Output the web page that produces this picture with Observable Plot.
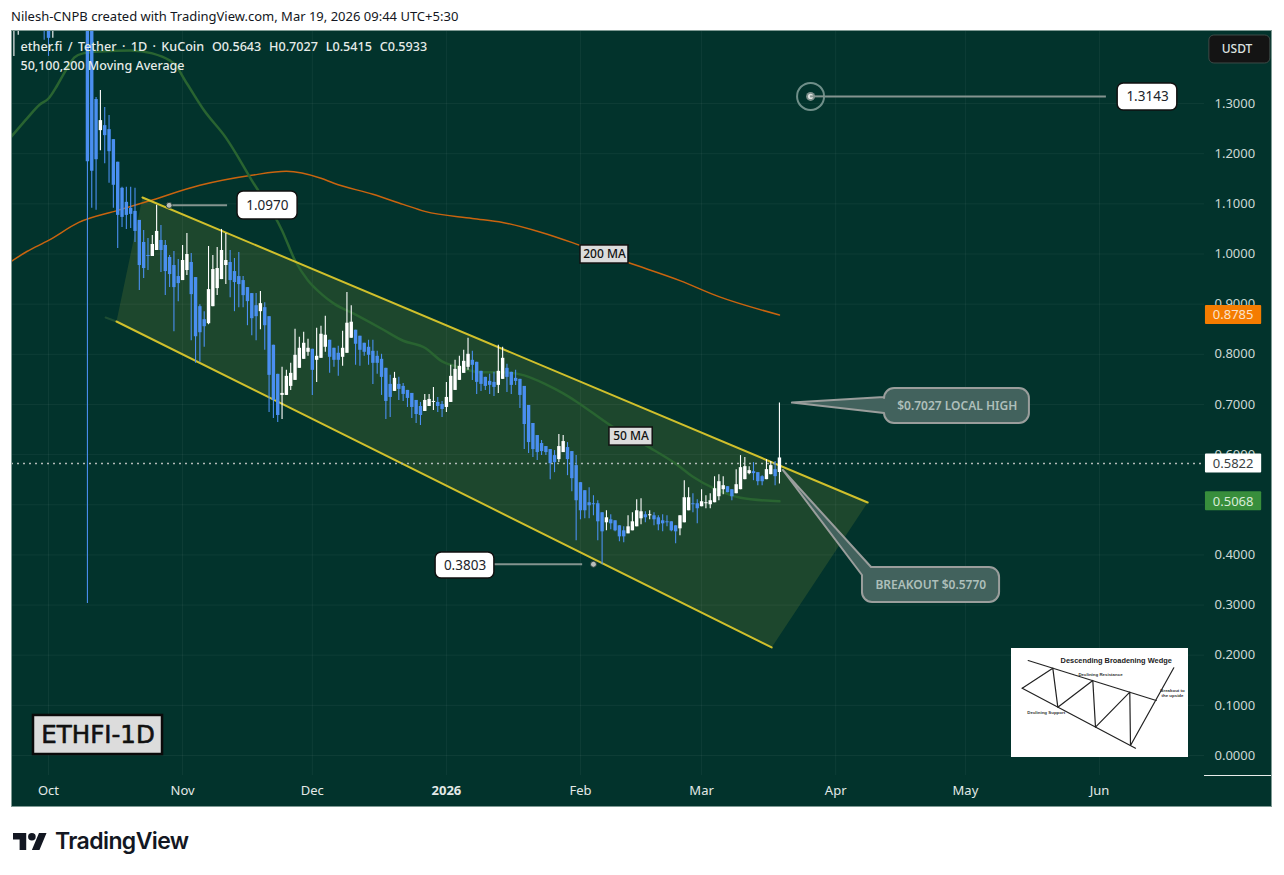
<!DOCTYPE html>
<html>
<head>
<meta charset="utf-8">
<script src="https://cdn.jsdelivr.net/npm/d3@7"></script>
<script src="https://cdn.jsdelivr.net/npm/@observablehq/plot@0.6"></script>
<style>
html,body{margin:0;padding:0;background:#fff;overflow:hidden;width:1284px;height:875px;position:relative}
#top{position:absolute;left:11px;top:8px;font:13px/16px "Noto Sans",sans-serif;color:#131722;white-space:nowrap}
#logo{position:absolute;left:13px;top:832px;display:flex;align-items:center;gap:8px;color:#131722}
#logo span{font:600 23px/18px Inter,sans-serif;letter-spacing:-.6px}
</style>
</head>
<body>
<div id="top">Nilesh-CNPB created with TradingView.com, Mar 19, 2026 09:44 UTC+5:30</div>
<div id="chart"></div>
<div id="logo"><svg width="34" height="17" viewBox="0 4 36 18"><path fill="#131722" d="M14 22H7V11H0V4h14v18zM28 22h-8l7.5-18h8L28 22z"/><circle fill="#131722" cx="20" cy="8" r="4"/></svg><span>TradingView</span></div>
<script>
// ---------- candles: one per day from Oct 10 2025 to Mar 19 2026 ----------
const firstDay = "2025-10-10", lastDay = "2026-03-20";
const opens = [
1.90,1.60,1.308,1.246,1.256,1.248,1.228,1.183,1.131,1.103,1.091,1.085,1.067,1.023,0.997,0.995,1.007,1.027,1.017,0.993,0.977,0.955,
.947,.967,.983,.953,.895,.869,.861,.895,.931,.949,.977,.983,.965,.955,.947,.933,.921,.897,.885,.893,.875,.818,.760,.718,.718,.736,.748,.772,.790,.804,
.810,.788,.792,.814,.828,.812,.802,.794,.802,.832,.848,.836,.822,.814,.806,.796,.790,.772,.740,.726,.740,.736,.728,.722,.708,.696,.686,.696,.704,.704,.700,
.694,.704,.728,.748,.762,.774,.788,.784,.766,.754,.746,.744,.738,.750,.772,.764,.752,.750,.736,.698,.662,.638,.622,.616,.610,.598,.590,.604,.614,.606,.578,
.544,.528,.504,.502,.502,.484,.464,.470,.468,.458,.448,.442,.448,.456,.472,.480,.478,.478,.474,.468,.466,.466,.458,.452,.464,.488,.502,.502,
.496,.502,.500,.504,.516,.530,.536,.530,.522,.530,.550,.562,.566,.564,.556,.550,.560,.570,.5643];
const highs = [
2.10,1.65,1.312,1.326,1.292,1.276,1.228,1.183,1.133,1.133,1.133,1.131,1.067,1.047,1.031,1.037,1.097,1.057,1.027,.997,1.005,.989,
1.017,1.041,1.001,.953,.899,.885,1.015,.997,1.013,1.049,1.041,1.007,.991,1.003,.955,.933,.921,.921,.925,.903,.875,.818,.760,.774,.768,.782,.850,.834,.844,.830,
.810,.852,.856,.876,.828,.812,.816,.846,.923,.897,.848,.836,.822,.828,.828,.806,.800,.772,.758,.764,.754,.742,.728,.722,.708,.704,.720,.720,.734,.714,.706,
.744,.778,.788,.796,.808,.832,.806,.784,.766,.754,.760,.764,.818,.814,.780,.764,.768,.750,.736,.698,.662,.638,.628,.616,.610,.608,.640,.638,.624,.606,.598,
.544,.528,.534,.518,.508,.484,.488,.480,.468,.458,.456,.478,.484,.510,.512,.486,.488,.484,.478,.480,.478,.466,.458,.478,.548,.534,.522,.510,
.530,.518,.522,.556,.560,.556,.536,.530,.570,.598,.594,.576,.584,.564,.558,.590,.586,.586,.7027];
const lows = [
.303,1.091,1.087,1.206,1.180,1.141,1.091,1.011,1.053,1.049,1.051,1.023,.927,.951,.967,.995,1.007,.963,.917,.933,.845,.905,
.947,.957,.827,.782,.784,.814,.859,.895,.917,.949,.939,.913,.885,.893,.893,.857,.837,.827,.849,.808,.684,.672,.664,.670,.718,.728,.748,.772,.790,.796,
.718,.744,.792,.804,.762,.774,.756,.776,.802,.832,.778,.776,.796,.778,.740,.760,.718,.670,.674,.726,.708,.706,.694,.672,.662,.658,.686,.696,.688,.684,.674,
.684,.704,.728,.748,.762,.768,.748,.720,.726,.728,.720,.716,.722,.750,.724,.720,.738,.692,.610,.602,.594,.588,.598,.598,.550,.564,.584,.604,.558,.526,.428,
.470,.472,.472,.478,.428,.3803,.448,.450,.446,.426,.424,.442,.448,.456,.460,.464,.470,.458,.448,.446,.456,.446,.422,.438,.464,.488,.484,.462,
.496,.492,.492,.504,.508,.520,.524,.508,.522,.530,.550,.560,.548,.538,.538,.550,.560,.538,.5415];
const closes = [
1.184,1.165,1.188,1.266,1.236,1.204,1.137,1.077,1.073,1.077,1.079,1.045,.977,.971,.995,1.019,1.045,1.007,.965,.959,.933,.941,
.987,.999,.919,.835,.843,.855,.929,.969,.971,1.007,.987,.947,.943,.939,.917,.905,.871,.875,.901,.857,.758,.708,.678,.722,.756,.762,.798,.812,.822,.812,
.768,.796,.840,.838,.794,.788,.788,.812,.862,.864,.820,.808,.804,.798,.782,.782,.754,.706,.714,.752,.730,.720,.712,.694,.680,.678,.708,.710,.706,.696,.690,
.714,.756,.770,.776,.786,.800,.778,.744,.740,.736,.738,.734,.766,.792,.754,.738,.746,.718,.660,.624,.610,.604,.606,.604,.582,.584,.616,.626,.590,.552,.508,
.488,.488,.498,.500,.466,.446,.474,.462,.448,.436,.436,.456,.466,.488,.486,.474,.480,.470,.460,.462,.464,.448,.446,.478,.514,.514,.500,.492,
.506,.504,.508,.532,.546,.538,.524,.516,.540,.574,.576,.568,.562,.546,.546,.570,.578,.556,.5933];

// candles of September/October that only reach into the top of the pane
const earlyDates  = ["2025-09-23","2025-09-24","2025-09-30","2025-10-01","2025-10-02"];
const earlyOpens  = [1.47,1.50,1.56,1.55,1.46];
const earlyHighs  = [1.56,1.60,1.60,1.60,1.60];
const earlyLows   = [1.394,1.436,1.426,1.394,1.43];
const earlyCloses = [1.52,1.56,1.49,1.43,1.55];

// ---------- moving averages ----------
const ma50Dates = ["2025-09-22","2025-09-23","2025-09-26","2025-09-29","2025-10-01","2025-10-03","2025-10-05","2025-10-07","2025-10-09","2025-10-13","2025-10-20","2025-10-25","2025-10-29","2025-10-30","2025-11-02","2025-11-06","2025-11-11","2025-11-17","2025-11-24","2025-11-27","2025-11-30","2025-12-03","2025-12-06","2025-12-11","2025-12-17","2025-12-22","2025-12-27","2025-12-31","2026-01-04","2026-01-09","2026-01-14","2026-01-19","2026-01-24","2026-01-28","2026-01-31","2026-02-08","2026-02-17","2026-02-23","2026-02-27","2026-03-04","2026-03-10","2026-03-19"];
const ma50Values = [1.230,1.240,1.270,1.298,1.310,1.336,1.366,1.392,1.400,1.404,1.406,1.400,1.386,1.380,1.340,1.286,1.232,1.147,1.047,.987,.947,.921,.901,.879,.851,.827,.813,.786,.774,.764,.764,.758,.740,.722,.706,.658,.614,.582,.556,.532,.514,.5068];
const ma200Dates = ["2025-09-22","2025-09-26","2025-10-01","2025-10-08","2025-10-17","2025-10-24","2025-11-05","2025-11-17","2025-11-25","2025-12-03","2025-12-06","2025-12-15","2025-12-22","2025-12-27","2026-01-07","2026-01-14","2026-01-23","2026-02-01","2026-02-12","2026-02-24","2026-03-05","2026-03-19"];
const ma200Values = [.9831,1.005,1.027,1.063,1.087,1.105,1.137,1.157,1.165,1.151,1.141,1.119,1.099,1.085,1.071,1.063,1.043,1.017,.983,.947,.915,.8785];

// ---------- axes ----------
const priceTicks = d3.range(0,14).map(i => i/10);
const hiddenPriceTick = 0.5; // fully covered by the green MA badge in the reference
const monthDates = ["2025-10-01","2025-11-01","2025-12-01","2026-01-01","2026-02-01","2026-03-01","2026-04-01","2026-05-01","2026-06-01"];
const monthLabels = ["Oct","Nov","Dec","2026","Feb","Mar","Apr","May","Jun"];

// ---------- drawn objects, x in days after Oct 1 2025, y in price ----------
const day = d => new Date(Date.UTC(2025,9,1) + d*864e5);
const d = s => new Date(s+"T00:00:00Z");
const channelDays = [21.73,189.4,167.2,15.72];
const channelPrices = [1.1127,0.5045,0.2154,0.8654];
const stubDays = [13.2,15.7], stubPrices = [.8734,.8654];

const whiteLabels = ["1.0970","0.3803","1.3143"];
const whiteDay0 = [43.7,89.5,247.2], whiteDay1 = [57.6,103.1,261.0];
const whiteHi = [1.1246,.4048,1.34], whiteLo = [1.0688,.3529,1.2861];
const whitePrice = [1.097,.3795,1.3135], whiteMid = [50.6,96.3,254.1];
const connDay0 = [27.7,103.1,179.4], connDay1 = [41.4,123.5,244.6], connPrice = [1.097,.3813,1.3143];
const dotDays = [27.9,126.0], dotPrices = [1.097,.3813];

const greyLabels = ["200 MA","50 MA"];
const greyDay0 = [123.0,129.7], greyDay1 = [134.1,139.7];
const greyHi = [1.017,.654], greyLo = [.981,.618];

const axisBadgeText = ["0.8785","0.5822","0.5068"];
const axisBadgePrice = [.8785,.5822,.5068];
const axisBadgeFill = ["#f57c00","#ffffff","#388e3c"];
const axisBadgeInk = ["#fbe3cc","#3a3f44","#d8ecd8"];

const rows = (dates,o,h,l,c) => dates.map((date,i)=>({date,o:o[i],h:h[i],l:l[i],c:c[i]}));
const candles = [
  ...rows(earlyDates.map(d),earlyOpens,earlyHighs,earlyLows,earlyCloses),
  ...rows(d3.utcDay.range(d(firstDay),d(lastDay)),opens,highs,lows,closes)
];
const zip = (ds,vs) => ds.map((s,i)=>({date:d(s),v:vs[i]}));
const up = r => r.c >= r.o ? "#ffffff" : "#4a8ff0";

// rounded callout with a pointed tail, built through the chart's scales
function callout(tip,b0,b1,box){
  return (index,{x,y}) => {
    const X0=x(day(box.d0)),X1=x(day(box.d1)),Y0=y(box.hi),Y1=y(box.lo),r=10;
    const p=d3.path();
    const side = box.side;
    p.moveTo(X0+r,Y0);
    p.lineTo(X1-r,Y0); p.arcTo(X1,Y0,X1,Y0+r,r);
    p.lineTo(X1,Y1-r); p.arcTo(X1,Y1,X1-r,Y1,r);
    p.lineTo(X0+r,Y1); p.arcTo(X0,Y1,X0,Y1-r,r);
    if(side==="left"){
      p.lineTo(X0,y(b1[1]));
      p.lineTo(x(day(tip[0])),y(tip[1]));
      p.lineTo(X0,y(b0[1]));
      p.lineTo(X0,Y0+r); p.arcTo(X0,Y0,X0+r,Y0,r);
    } else {
      p.lineTo(X0,y(b1[1]));
      p.lineTo(x(day(tip[0])),y(tip[1]));
      p.lineTo(x(day(b0[0])),Y0);
      p.lineTo(X0+r,Y0);
    }
    p.closePath();
    const el=document.createElementNS("http://www.w3.org/2000/svg","path");
    el.setAttribute("d",p.toString());
    el.setAttribute("fill","#42625d");
    el.setAttribute("stroke","#9a9e9c");
    el.setAttribute("stroke-width","2");
    el.setAttribute("stroke-linejoin","round");
    return el;
  };
}

const textFont = '"Noto Sans",sans-serif';
const chart = Plot.plot({
  width:1261, height:777,
  marginLeft:0, marginRight:68, marginTop:0, marginBottom:32,
  x:{type:"utc",domain:[day(-8.555),day(267.28)],axis:null},
  y:{type:"linear",domain:[-0.03988,1.44566],axis:null},
  style:{position:"absolute",left:"11px",top:"30px",background:"#02332c",outline:"1px solid #7f9a94",outlineOffset:"-1px",fontFamily:textFont,fontSize:"13px"},
  marks:[
    // channel shading
    Plot.line(channelDays.map((v,i)=>({x:day(v),y:channelPrices[i]})),{x:"x",y:"y",fill:"#4a6a30",fillOpacity:.38,stroke:"none",curve:"linear-closed"}),
    // grid
    Plot.gridY(priceTicks,{stroke:"#ffffff",strokeOpacity:.05}),
    Plot.gridX(monthDates.map(d),{stroke:"#ffffff",strokeOpacity:.05}),
    // axes
    Plot.axisY(priceTicks.filter(v=>v!==hiddenPriceTick),{anchor:"right",tickSize:0,tickPadding:10,tickFormat:v=>v.toFixed(4),color:"#cdd8d5",label:null}),
    Plot.axisX(monthDates.map(d),{anchor:"bottom",tickSize:0,tickPadding:10,tickFormat:t=>monthLabels[monthDates.indexOf(d3.utcFormat("%Y-%m-%d")(t))],color:"#e3e9e7",label:null}),
    // moving averages
    Plot.line(zip(ma200Dates,ma200Values),{x:"date",y:"v",stroke:"#c9640f",strokeWidth:1.5,curve:"monotone-x",clip:true}),
    Plot.line(zip(ma50Dates,ma50Values),{x:"date",y:"v",stroke:"#296431",strokeWidth:2.5,curve:"monotone-x",clip:true}),
    Plot.line(stubDays.map((v,i)=>({x:day(v),y:stubPrices[i]})),{x:"x",y:"y",stroke:"#1d4d33",strokeWidth:2}),
    // channel edges
    Plot.line([0,1].map(i=>({x:day(channelDays[i]),y:channelPrices[i]})),{x:"x",y:"y",stroke:"#d0c02c",strokeWidth:2}),
    Plot.line([3,2].map(i=>({x:day(channelDays[i]),y:channelPrices[i]})),{x:"x",y:"y",stroke:"#d0c02c",strokeWidth:2}),
    // last price line
    Plot.ruleY([.5822],{stroke:"#b4bab8",strokeWidth:1.5,strokeDasharray:"2 4"}),
    // candles
    Plot.ruleX(candles,{x:"date",y1:"l",y2:"h",stroke:up,strokeWidth:1.1,clip:true}),
    Plot.ruleX(candles,{x:"date",y1:"o",y2:"c",stroke:up,strokeWidth:3.4,clip:true}),
    // connectors and dots
    Plot.ruleY(connPrice.map((v,i)=>({v,a:day(connDay0[i]),b:day(connDay1[i])})),{y:"v",x1:"a",x2:"b",stroke:"#84948f",strokeWidth:2}),
    Plot.dot(dotDays.map((v,i)=>({x:day(v),y:dotPrices[i]})),{x:"x",y:"y",r:3,fill:"#b9bdbb",stroke:"#26403b",strokeWidth:1}),
    // target ring on 1.3143
    Plot.dot([{x:day(176.2),y:1.3143}],{x:"x",y:"y",r:13.5,fill:"none",stroke:"#6f8f89",strokeWidth:2}),
    Plot.dot([{x:day(176.2),y:1.3143}],{x:"x",y:"y",r:4.5,fill:"#7d908c"}),
    Plot.dot([{x:day(176.2),y:1.3143}],{x:"x",y:"y",r:2.6,fill:"#dfe3e1"}),
    Plot.ruleY([1.3143],{x1:()=>day(176.2),x2:()=>day(179.4),stroke:"#84948f",strokeWidth:2}),
    // white value labels
    Plot.rect(whiteLabels.map((t,i)=>({a:day(whiteDay0[i]),b:day(whiteDay1[i]),hi:whiteHi[i],lo:whiteLo[i]})),{x1:"a",x2:"b",y1:"lo",y2:"hi",fill:"#fff",stroke:"#111",strokeWidth:1.5,rx:6}),
    Plot.text(whiteLabels.map((t,i)=>({t,x:day(whiteMid[i]),y:whitePrice[i]})),{x:"x",y:"y",text:"t",fill:"#20242a",fontSize:13.5}),
    // grey labels
    Plot.rect(greyLabels.map((t,i)=>({a:day(greyDay0[i]),b:day(greyDay1[i]),hi:greyHi[i],lo:greyLo[i]})),{x1:"a",x2:"b",y1:"lo",y2:"hi",fill:"#dcdcdc",stroke:"#111",strokeWidth:1.5}),
    Plot.text(greyLabels.map((t,i)=>({t,x:day((greyDay0[i]+greyDay1[i])/2),y:(greyHi[i]+greyLo[i])/2})),{x:"x",y:"y",text:"t",fill:"#111",fontSize:12,fontWeight:500}),
    // callouts
    callout([172.0,.7027],[0,.7139],[0,.682],{d0:193.3,d1:226.8,hi:.7318,lo:.662,side:"left"}),
    callout([169.9,.5683],[190.3,.3749],[188.2,.3589],{d0:188.2,d1:219.9,hi:.3749,lo:.3051,side:"top"}),
    Plot.text([{t:"$0.7027 LOCAL HIGH",x:day(210.1),y:.697},{t:"BREAKOUT $0.5770",x:day(204),y:.34}],{x:"x",y:"y",text:"t",fill:"#aebfba",fontSize:12,fontWeight:600}),
    // symbol stamp
    Plot.rect([{a:day(-3.47),b:day(26.36),hi:.0798,lo:.002}],{x1:"a",x2:"b",y1:"lo",y2:"hi",fill:"#dcdcdc",stroke:"#0a0a0a",strokeWidth:2.5}),
    Plot.text([{t:"ETHFI-1D",x:day(11.45),y:.041}],{x:"x",y:"y",text:"t",fill:"#111",stroke:"#111",strokeWidth:.6,fontSize:24.5,fontFamily:'"DejaVu Sans",sans-serif'}),
    // header text
    Plot.text(["ether.fi\u2009 / \u2009Tether\u2009 · \u20091D\u2009 · \u2009KuCoin\u00a0\u00a0\u200aO0.5643\u00a0\u00a0\u200aH0.7027\u00a0\u00a0\u200aL0.5415\u00a0\u00a0\u200aC0.5933"],{frameAnchor:"top-left",dx:9,dy:12,fill:"#e6ece9",fontSize:12.6,textAnchor:"start",lineAnchor:"top",fontWeight:500}),
    Plot.text(["50,100,200 Moving Average"],{frameAnchor:"top-left",dx:9,dy:31,fill:"#e6ece9",fontSize:12.5,textAnchor:"start",lineAnchor:"top",fontWeight:500}),
    // axis badges
    Plot.rect(axisBadgeText.map((t,i)=>({hi:axisBadgePrice[i]+.019,lo:axisBadgePrice[i]-.019,fill:axisBadgeFill[i],a:day(267.5),b:day(280.5)})),{x1:"a",x2:"b",y1:"lo",y2:"hi",fill:"fill",rx:1}),
    Plot.text(axisBadgeText.map((t,i)=>({t,y:axisBadgePrice[i],x:day(273.9),ink:axisBadgeInk[i]})),{x:"x",y:"y",text:"t",fill:"ink",fontSize:13}),
    Plot.rect([{a:day(268.4),b:day(282.5),hi:1.4357,lo:1.3799}],{x1:"a",x2:"b",y1:"lo",y2:"hi",fill:"#141414",stroke:"#3d4a47",rx:5}),
    Plot.text([{t:"USDT",x:day(274.8),y:1.4078}],{x:"x",y:"y",text:"t",fill:"#dfe3e1",fontSize:12,fontWeight:500}),
    // axis separator at the price scale foot
    Plot.ruleY([-0.03988],{x1:()=>day(267.28),x2:()=>day(283),stroke:"#e8ecea",strokeWidth:1})
  ]
});
d3.select(chart).selectAll("text").filter(function(){return this.textContent==="2026"}).style("font-weight","700");
document.getElementById("chart").appendChild(chart);

// ---------- inset sketch of the pattern ----------
const wedgeTopX=[16.7,144.7], wedgeTopY=[12,52];
const wedgeLowX=[10.7,124], wedgeLowY=[39.7,99.7];
const zigX=[10.7,41.3,46.3,81.3,84,118.3,119,162.3], zigY=[39.7,19.7,58.7,32,78.7,43.7,97,19.3];
const insetTitle="Descending Broadening Wedge", titleX=104.7, titleY=12;
const insetNotes=["Declining Resistance","Declining Support","Breakout to","the upside"];
const noteX=[89,34.7,161,161], noteY=[26.3,63.7,42.3,47];
const pts=(xs,ys)=>xs.map((x,i)=>({x,y:ys[i]}));
const inset=Plot.plot({
  width:177,height:109,margin:0,
  x:{domain:[0,177],axis:null},
  y:{domain:[0,109],range:[0,109],axis:null},
  style:{position:"absolute",left:"1011px",top:"648px",background:"#fff"},
  marks:[
    Plot.line(pts(wedgeTopX,wedgeTopY),{x:"x",y:"y",stroke:"#222",strokeWidth:1.2}),
    Plot.line(pts(wedgeLowX,wedgeLowY),{x:"x",y:"y",stroke:"#222",strokeWidth:1.2}),
    Plot.line(pts(zigX,zigY),{x:"x",y:"y",stroke:"#222",strokeWidth:1.2}),
    Plot.text([insetTitle],{x:()=>titleX,y:()=>titleY,fontSize:7.4,fontWeight:700,fill:"#222",fontFamily:'"Liberation Sans",sans-serif'}),
    Plot.text(insetNotes,{x:(t,i)=>noteX[i],y:(t,i)=>noteY[i],fontSize:4.4,fontWeight:700,fill:"#333",fontFamily:'"Liberation Sans",sans-serif'})
  ]
});
document.getElementById("chart").appendChild(inset);
</script>
</body>
</html>
